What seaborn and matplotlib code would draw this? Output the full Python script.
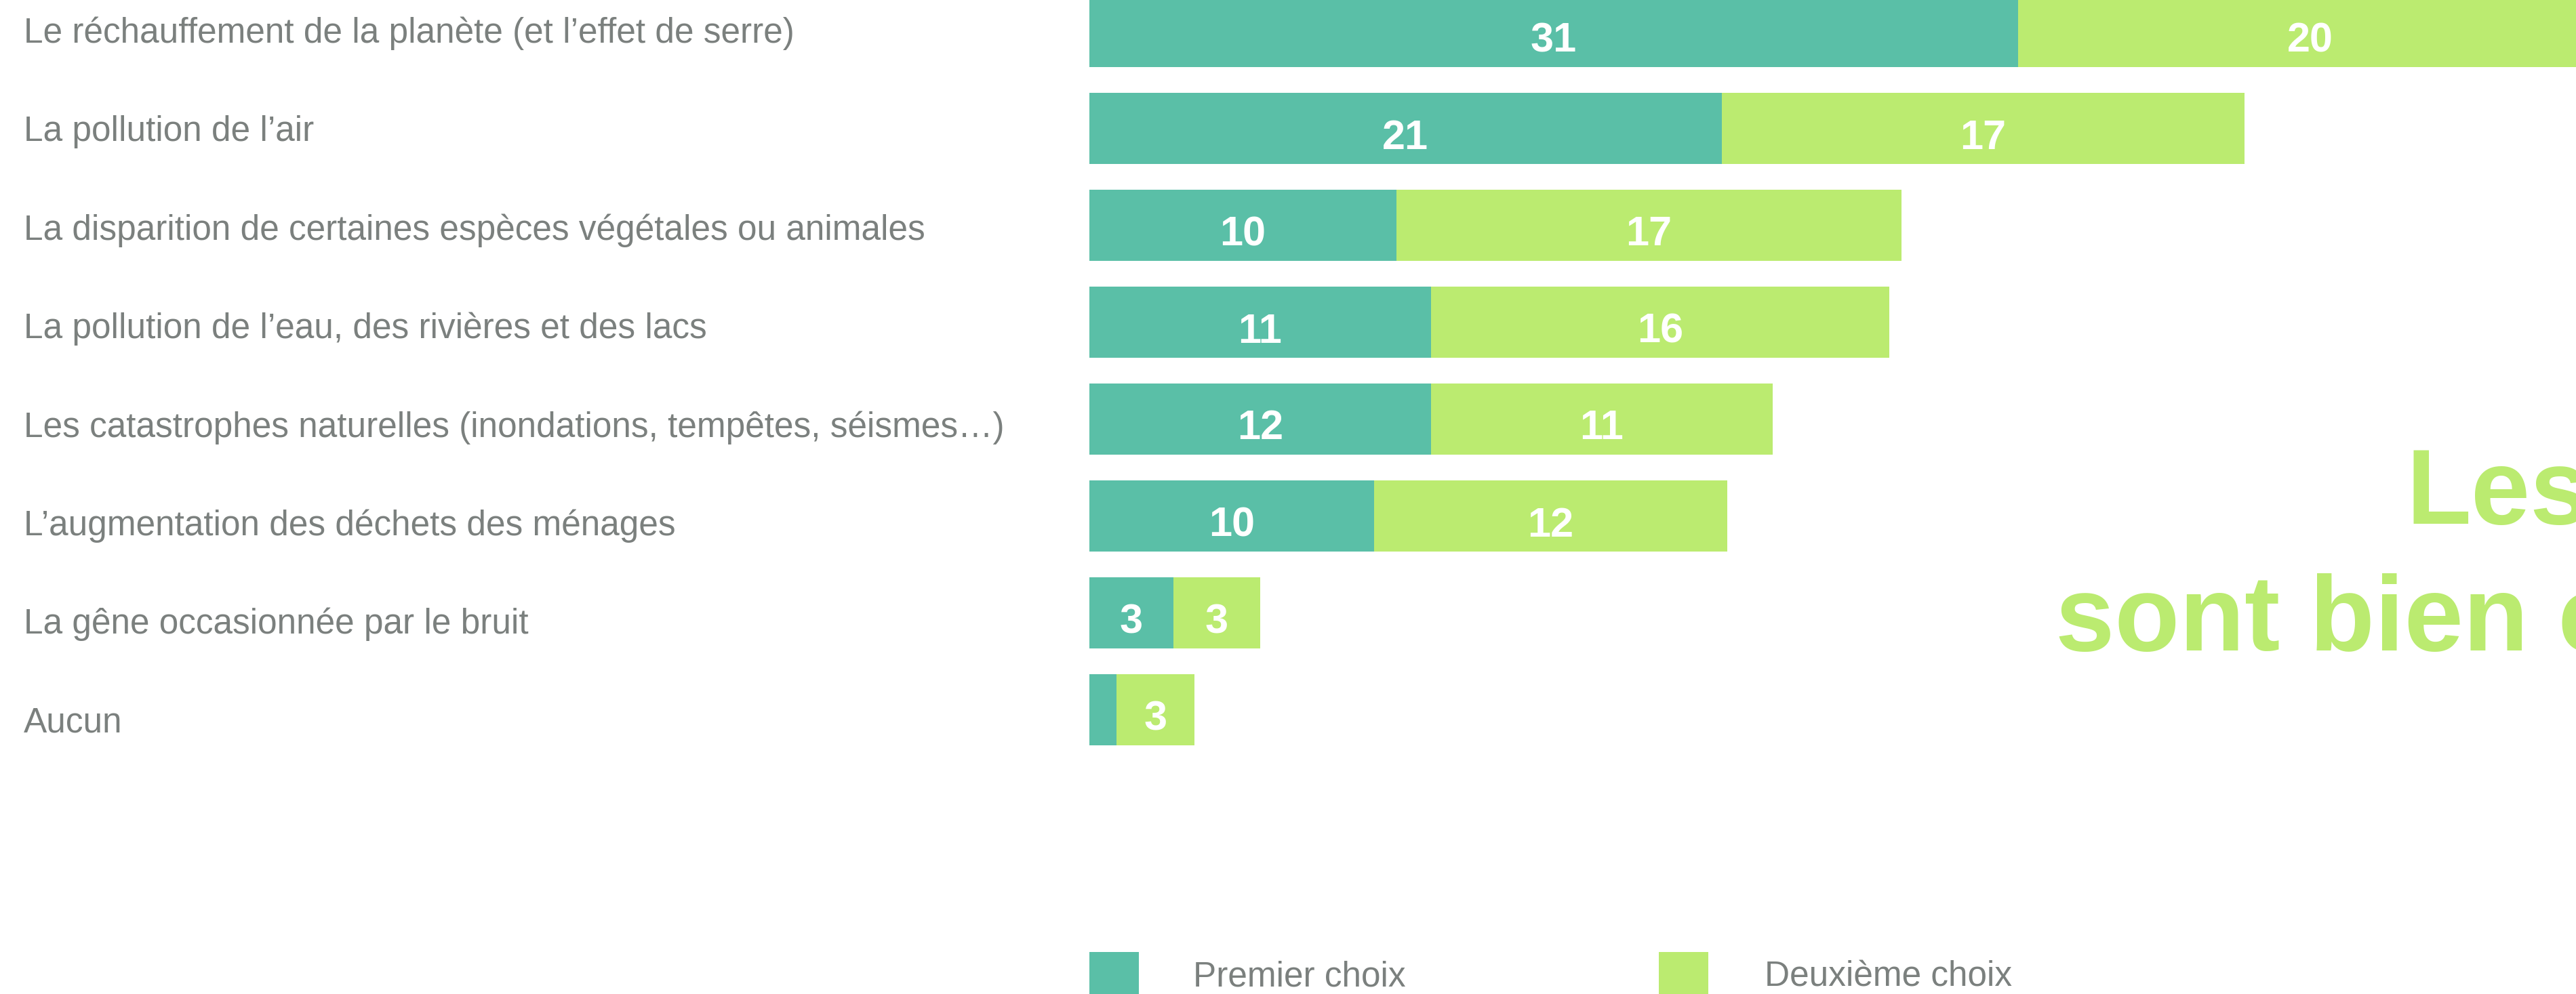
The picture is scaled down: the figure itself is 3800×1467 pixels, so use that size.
import matplotlib
matplotlib.use("Agg")
import matplotlib.pyplot as plt
from matplotlib.patches import Rectangle
import seaborn as sns
import pandas as pd
import numpy as np

# ---------------- data ----------------
categories = [
    "Le réchauffement de la planète (et l’effet de serre)",
    "La pollution de l’air",
    "La disparition de certaines espèces végétales ou animales",
    "La pollution de l’eau, des rivières et des lacs",
    "Les catastrophes naturelles (inondations, tempêtes, séismes…)",
    "L’augmentation des déchets des ménages",
    "La gêne occasionnée par le bruit",
    "Aucun",
]
premier = [31.0, 21.1, 10.25, 11.4, 11.4, 9.5, 2.8, 0.9]
deuxieme = [19.5, 17.45, 16.85, 15.3, 11.4, 11.8, 2.9, 2.6]
premier_labels = ["31", "21", "10", "11", "12", "10", "3", ""]
deuxieme_labels = ["20", "17", "17", "16", "11", "12", "3", "3"]
legend_labels = ["Premier choix", "Deuxième choix"]
title_lines = ["Les", "sont bien c"]

TEAL = "#5abfa7"
GREEN = "#bbeb70"
GREY = "#7b807e"

W, H = 3800, 1467
sns.set_theme(style="white")
plt.rcParams["font.family"] = ["Liberation Sans", "DejaVu Sans"]

fig = plt.figure(figsize=(W / 100, H / 100), dpi=100)
fig.patch.set_facecolor("white")
x0 = 1607
ax = fig.add_axes([x0 / W, 0, 1 - x0 / W, 1])
ax.set_facecolor("none")

df = pd.DataFrame({
    "cat": categories,
    "premier": premier,
    "total": np.add(premier, deuxieme),
})

sns.barplot(data=df, y="cat", x="total", color=GREEN, orient="h", width=0.734,
            saturation=1, linewidth=0, edgecolor="none", ax=ax)
sns.barplot(data=df, y="cat", x="premier", color=TEAL, orient="h", width=0.734,
            saturation=1, linewidth=0, edgecolor="none", ax=ax)

px_per_unit = 44.2
ax.set_xlim(0, (W - x0) / px_per_unit)
row_px = 143.0
top_center = 46.5
ax.set_ylim((H - top_center) / row_px, -top_center / row_px)
ax.set_xticks([])
ax.set_yticks([])
ax.set_xlabel("")
ax.set_ylabel("")
for s in ax.spines.values():
    s.set_visible(False)

# value labels inside segments
for i, (p, d) in enumerate(zip(premier, deuxieme)):
    if premier_labels[i]:
        ax.text(p / 2, i + 30 / row_px, premier_labels[i], ha="center", va="baseline",
                color="white", fontsize=44, fontweight="bold")
    if deuxieme_labels[i]:
        ax.text(p + d / 2, i + 30 / row_px, deuxieme_labels[i], ha="center", va="baseline",
                color="white", fontsize=44, fontweight="bold")

# category labels on the left (own spacing, slightly larger than bar rows)
for i, c in enumerate(categories):
    baseline = 63 + 145.4 * i
    fig.text(35 / W, (H - baseline) / H, c, ha="left", va="baseline",
             color=GREY, fontsize=37)

# legend
legend_x = [1607, 2447]
legend_tx = [1760, 2603]
for lx, tx, col, lab in zip(legend_x, legend_tx, [TEAL, GREEN], legend_labels):
    fig.patches.append(Rectangle((lx / W, 0), 73 / W, (H - 1405) / H,
                                 transform=fig.transFigure, facecolor=col,
                                 edgecolor="none", zorder=3))
    fig.text(tx / W, (H - 1455) / H, lab, ha="left", va="baseline",
             color=GREY, fontsize=37)

# big overlaid title (clipped at right edge, as in the source)
fig.text(3549 / W, (H - 773) / H, title_lines[0], ha="left", va="baseline",
         color=GREEN, fontsize=113, fontweight="bold")
fig.text(3032 / W, (H - 960) / H, title_lines[1], ha="left", va="baseline",
         color=GREEN, fontsize=113, fontweight="bold")

fig.savefig("out.png", dpi=100, facecolor="white")
